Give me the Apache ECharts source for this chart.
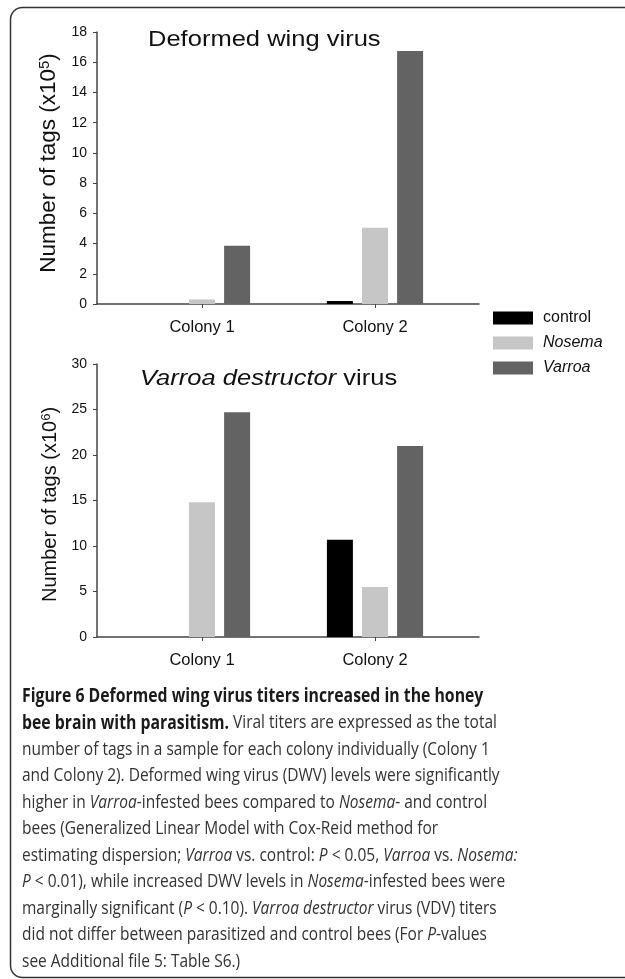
<!DOCTYPE html>
<html lang="en">
  <head>
    <meta charset="UTF-8" />
    <title>Figure 6</title>
    <style>
      html, body { margin: 0; padding: 0; width: 100%; height: 100%; background: #fff; }
      #fig { width: 625px; height: 979px; }
    </style>
    <script src="https://cdn.jsdelivr.net/npm/echarts@6/dist/echarts.min.js"></script>
  </head>
  <body>
    <div id="fig"></div>
    <script>
      const colonies = ['Colony 1', 'Colony 2']
      const groups = ['control', 'Nosema', 'Varroa']
      const colors = ['#000000', '#c6c6c6', '#636363']

      // Deformed wing virus, tags x10^5
      const dwvControl = [0, 0.2]
      const dwvNosema = [0.3, 5.05]
      const dwvVarroa = [3.85, 16.75]

      // Varroa destructor virus, tags x10^6
      const vdvControl = [0, 10.7]
      const vdvNosema = [14.8, 5.5]
      const vdvVarroa = [24.7, 21.0]

      const dwvTicks = { min: 0, max: 18, interval: 2 }
      const vdvTicks = { min: 0, max: 30, interval: 5 }

      const axisFont = 'Liberation Sans, Arial, sans-serif'
      const capFont = 'Open Sans, sans-serif'

      const fig = echarts.init(document.querySelector('#fig'))

      // grid 0/2 carry the visible axes, grid 1/3 hold the bars
      const grids = [
        { left: 97, top: 32, width: 382, height: 272 },
        { left: 115.5, top: 32, width: 346, height: 272 },
        { left: 97, top: 364, width: 382, height: 273 },
        { left: 115.5, top: 364, width: 346, height: 273 }
      ]

      function frameXAxis(gridIndex) {
        return {
          gridIndex,
          type: 'value',
          min: 0,
          max: 1,
          axisLine: { show: true, lineStyle: { color: '#444', width: 1.5 } },
          axisTick: { show: false },
          axisLabel: { show: false },
          splitLine: { show: false }
        }
      }
      function catXAxis(gridIndex) {
        return {
          gridIndex,
          type: 'category',
          data: colonies,
          axisLine: { show: false },
          axisTick: { show: true, alignWithLabel: true, length: 4, inside: false, lineStyle: { color: '#444' } },
          axisLabel: { margin: 15, fontSize: 16.5, color: '#111', fontFamily: axisFont },
          splitLine: { show: false }
        }
      }
      function valueYAxis(gridIndex, ticks, exp, size, gap, pad) {
        return {
          gridIndex,
          type: 'value',
          min: ticks.min,
          max: ticks.max,
          interval: ticks.interval,
          name: '{a|Number of tags (x10}{s|' + exp + '}{a|)}',
          nameLocation: 'middle',
          nameGap: gap,
          nameTextStyle: {
            padding: pad,
            rich: {
              a: { fontSize: size, color: '#111', fontFamily: axisFont },
              s: { fontSize: Math.round(size * 0.65), color: '#111', fontFamily: axisFont, verticalAlign: 'top' }
            }
          },
          axisLine: { show: true, lineStyle: { color: '#444', width: 1.5 } },
          axisTick: { show: true, length: 4, lineStyle: { color: '#444' } },
          axisLabel: { margin: 10, fontSize: 14, color: '#111', fontFamily: axisFont },
          splitLine: { show: false }
        }
      }
      function hiddenYAxis(gridIndex, ticks) {
        return { gridIndex, type: 'value', min: ticks.min, max: ticks.max, show: false, splitLine: { show: false } }
      }

      function barSeries(name, data, idx, axisIndex) {
        return {
          name,
          type: 'bar',
          xAxisIndex: axisIndex,
          yAxisIndex: axisIndex,
          data,
          barWidth: 26,
          barGap: '35%',
          itemStyle: { color: colors[idx] },
          silent: true
        }
      }

      // caption lines: [text, style] pairs
      const captionLines = [
        [['Figure 6 Deformed wing virus titers increased in the honey', 'b']],
        [['bee brain with parasitism.', 'b'], [' Viral titers are expressed as the total', 'n']],
        [['number of tags in a sample for each colony individually (Colony 1', 'n']],
        [['and Colony 2). Deformed wing virus (DWV) levels were significantly', 'n']],
        [['higher in ', 'n'], ['Varroa', 'i'], ['-infested bees compared to ', 'n'], ['Nosema', 'i'], ['- and control', 'n']],
        [['bees (Generalized Linear Model with Cox-Reid method for', 'n']],
        [['estimating dispersion; ', 'n'], ['Varroa', 'i'], [' vs. control: ', 'n'], ['P', 'i'], [' < 0.05, ', 'n'], ['Varroa', 'i'], [' vs. ', 'n'], ['Nosema:', 'i']],
        [['P', 'i'], [' < 0.01), while increased DWV levels in ', 'n'], ['Nosema', 'i'], ['-infested bees were', 'n']],
        [['marginally significant (', 'n'], ['P', 'i'], [' < 0.10). ', 'n'], ['Varroa destructor', 'i'], [' virus (VDV) titers', 'n']],
        [['did not differ between parasitized and control bees (For ', 'n'], ['P', 'i'], ['-values', 'n']],
        [['see Additional file 5: Table S6.)', 'n']]
      ]

      const capRich = {
        b: { fontFamily: capFont, fontSize: 19.4, fontWeight: 'bold', fill: '#1a1a1a' },
        n: { fontFamily: capFont, fontSize: 19, fill: '#333' },
        i: { fontFamily: capFont, fontSize: 19, fontStyle: 'italic', fill: '#333' }
      }

      const captionGraphics = captionLines.map((parts, i) => ({
        type: 'text',
        left: 22,
        top: 687 + i * 26.5,
        scaleX: 0.815,
        style: {
          text: parts.map(p => '{' + p[1] + '|' + p[0] + '}').join(''),
          rich: capRich,
          font: '19px ' + capFont
        }
      }))

      // panel titles, set wide like the original figure
      const titleGraphics = [
        {
          type: 'text',
          x: 148,
          y: 29,
          scaleX: 1.16,
          style: { text: 'Deformed wing virus', font: '22px ' + axisFont, fill: '#111' }
        },
        {
          type: 'text',
          x: 140,
          y: 368,
          scaleX: 1.16,
          style: {
            text: '{i|Varroa destructor}{n| virus}',
            rich: {
              i: { font: 'italic 22px ' + axisFont, fill: '#111' },
              n: { font: '22px ' + axisFont, fill: '#111' }
            }
          }
        }
      ]

      const options = {
        backgroundColor: '#fff',
        animation: false,
        legend: {
          orient: 'vertical',
          left: 493,
          top: 310,
          padding: 0,
          itemWidth: 40,
          itemHeight: 13,
          itemGap: 9,
          icon: 'rect',
          selectedMode: false,
          textStyle: { fontSize: 16, color: '#111', fontFamily: axisFont, padding: [0, 0, 0, 5] },
          data: [
            { name: 'control' },
            { name: 'Nosema', textStyle: { fontStyle: 'italic' } },
            { name: 'Varroa', textStyle: { fontStyle: 'italic' } }
          ]
        },
        grid: grids,
        xAxis: [frameXAxis(0), catXAxis(1), frameXAxis(2), catXAxis(3)],
        yAxis: [
          valueYAxis(0, dwvTicks, '5', 22.5, 34, [0, 0, 0, 10]),
          hiddenYAxis(1, dwvTicks),
          valueYAxis(2, vdvTicks, '6', 20, 37, [0, 8, 0, 0]),
          hiddenYAxis(3, vdvTicks)
        ],
        series: [
          barSeries(groups[0], dwvControl, 0, 1),
          barSeries(groups[1], dwvNosema, 1, 1),
          barSeries(groups[2], dwvVarroa, 2, 1),
          barSeries(groups[0], vdvControl, 0, 3),
          barSeries(groups[1], vdvNosema, 1, 3),
          barSeries(groups[2], vdvVarroa, 2, 3)
        ],
        graphic: [
          {
            type: 'rect',
            shape: { x: 10.5, y: 7.5, width: 640, height: 970, r: 12 },
            style: { fill: 'none', stroke: '#333', lineWidth: 1.5 },
            silent: true
          }
        ].concat(titleGraphics, captionGraphics)
      }
      fig.setOption(options)
    </script>
  </body>
</html>
